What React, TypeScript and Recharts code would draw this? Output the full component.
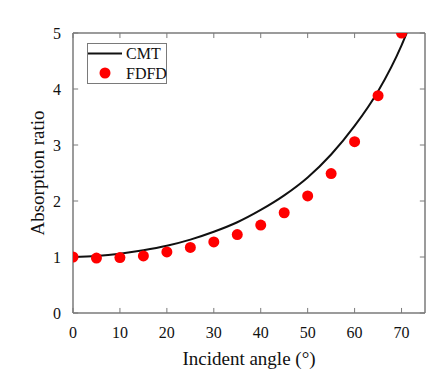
import React from 'react';
import { ComposedChart, Line, Scatter, XAxis, YAxis, Legend, ReferenceLine } from 'recharts';

const cmtAngles = [0, 5, 10, 15, 20, 25, 30, 35, 40, 45, 50, 55, 60, 65, 70, 71.1];
const cmtValues = [1.0, 1.02, 1.06, 1.12, 1.2, 1.31, 1.45, 1.62, 1.84, 2.1, 2.42, 2.83, 3.34, 3.96, 4.78, 5.0];

const fdfdAngles = [0, 5, 10, 15, 20, 25, 30, 35, 40, 45, 50, 55, 60, 65, 70];
const fdfdValues = [1.0, 0.98, 0.99, 1.02, 1.09, 1.17, 1.27, 1.4, 1.57, 1.79, 2.09, 2.49, 3.06, 3.88, 5.0];

const xTicks = [0, 10, 20, 30, 40, 50, 60, 70];
const yTicks = [0, 1, 2, 3, 4, 5];
const X_MAX = 75;
const Y_MAX = 5;

const cmtData = cmtAngles.map((x, i) => ({ x, y: cmtValues[i] }));
const fdfdData = fdfdAngles.map((x, i) => ({ x, y: fdfdValues[i] }));

const FONT = '"Liberation Serif", "Times New Roman", serif';
const AXIS = '#7a7a7a';
const TICK_X = 1.1; // inward tick length in x units
const TICK_Y = 0.09; // inward tick length in y units

const LegendBox = () => (
  <svg width={80} height={41} style={{ display: 'block' }}>
    <rect x={0.5} y={0.5} width={79} height={40} fill="#fff" stroke={AXIS} strokeWidth={1} />
    <line x1={1} x2={35} y1={10.5} y2={10.5} stroke="#111" strokeWidth={2} />
    <circle cx={18} cy={30} r={5.5} fill="#ff0000" />
    <text x={39} y={16} style={{ fontFamily: FONT }} fontSize={16} fill="#111">CMT</text>
    <text x={39} y={36} style={{ fontFamily: FONT }} fontSize={16} fill="#111">FDFD</text>
  </svg>
);

const Dot = (p: any) => <circle cx={p.cx} cy={p.cy} r={5.5} fill="#ff0000" />;

const XTick = (p: any) => (
  <text x={p.x} y={p.y} dy={11} textAnchor="middle" style={{ fontFamily: FONT }} fontSize={16} fill="#111">
    {p.payload.value}
  </text>
);
const YTick = (p: any) => (
  <text x={p.x} y={p.y} dy={5.5} textAnchor="end" style={{ fontFamily: FONT }} fontSize={16} fill="#111">
    {p.payload.value}
  </text>
);

export default function App() {
  return (
    <div style={{ position: 'absolute', left: 0, top: 0, background: '#fff', fontFamily: FONT }}>
      <ComposedChart width={444} height={376} margin={{ top: 33, right: 19, bottom: 0, left: 0 }}>
        <XAxis
          dataKey="x"
          type="number"
          domain={[0, X_MAX]}
          ticks={xTicks}
          allowDataOverflow
          height={63}
          tickLine={false}
          tickMargin={8}
          axisLine={{ stroke: AXIS, strokeWidth: 1.5 }}
          tick={XTick}
          label={{ value: 'Incident angle (°)', position: 'center', dy: 14, fill: '#111', fontSize: 19, fontFamily: FONT }}
        />
        <YAxis
          type="number"
          domain={[0, Y_MAX]}
          ticks={yTicks}
          allowDataOverflow
          width={73}
          tickLine={false}
          tickMargin={6}
          axisLine={{ stroke: AXIS, strokeWidth: 1.5 }}
          tick={YTick}
          label={{ value: 'Absorption ratio', angle: -90, position: 'center', dx: 1, fill: '#111', fontSize: 19, fontFamily: FONT }}
        />
        <ReferenceLine y={Y_MAX} stroke={AXIS} strokeWidth={1.5} />
        <ReferenceLine x={X_MAX} stroke={AXIS} strokeWidth={1.5} />
        {xTicks.map((t) => (
          <ReferenceLine key={'xb' + t} segment={[{ x: t, y: 0 }, { x: t, y: TICK_Y }]} stroke={AXIS} />
        ))}
        {xTicks.map((t) => (
          <ReferenceLine key={'xt' + t} segment={[{ x: t, y: Y_MAX }, { x: t, y: Y_MAX - TICK_Y }]} stroke={AXIS} />
        ))}
        {yTicks.map((t) => (
          <ReferenceLine key={'yl' + t} segment={[{ x: 0, y: t }, { x: TICK_X, y: t }]} stroke={AXIS} />
        ))}
        {yTicks.map((t) => (
          <ReferenceLine key={'yr' + t} segment={[{ x: X_MAX, y: t }, { x: X_MAX - TICK_X, y: t }]} stroke={AXIS} />
        ))}
        <Line
          data={cmtData}
          dataKey="y"
          type="monotone"
          stroke="#111"
          strokeWidth={2}
          dot={false}
          activeDot={false}
          isAnimationActive={false}
        />
        <Scatter data={fdfdData} dataKey="y" shape={Dot} isAnimationActive={false} />
        <Legend
          layout="horizontal"
          verticalAlign="middle"
          align="center"
          content={() => <LegendBox />}
          wrapperStyle={{ position: 'absolute', left: 87, top: 43, width: 80, height: 41 }}
        />
      </ComposedChart>
    </div>
  );
}
